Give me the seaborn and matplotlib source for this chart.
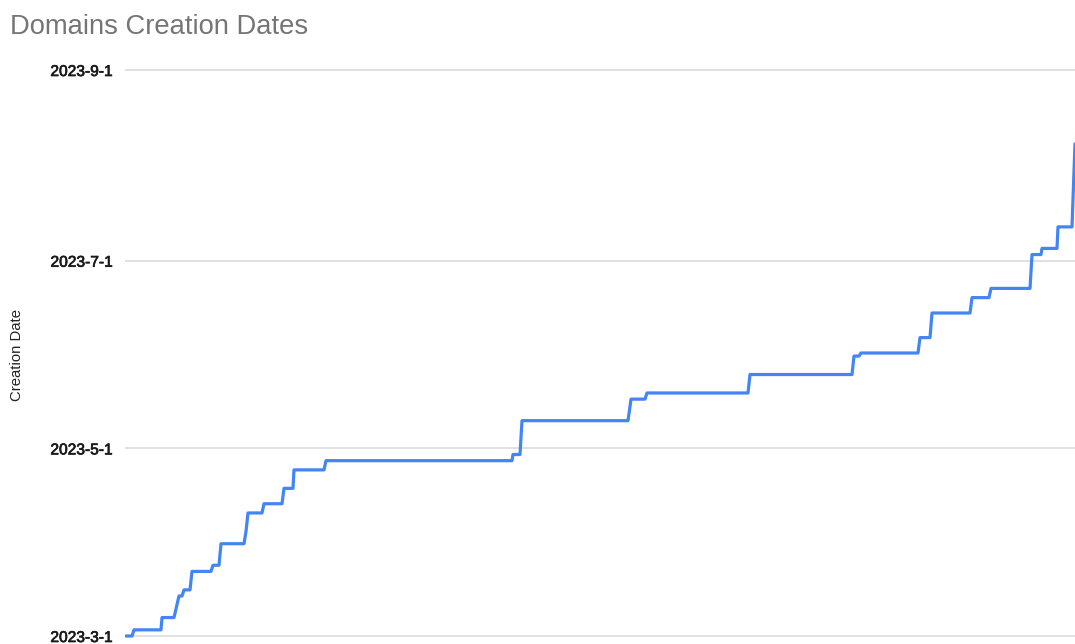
import matplotlib
matplotlib.use("Agg")
import matplotlib.pyplot as plt
import matplotlib.dates as mdates
import matplotlib.patheffects as pe
import seaborn as sns
import pandas as pd

# domain rank (sorted by creation date) and its creation date, at each bend of the curve
domain_rank = [0, 6, 8, 35, 36, 48, 53, 56, 58, 64, 66, 85, 87, 93, 95, 118,
               120, 122, 136, 138, 156, 158, 167, 168, 198, 200, 386, 387, 394,
               396, 502, 505, 519, 521, 622, 624, 726, 728, 733, 735, 792, 794,
               804, 806, 844, 846, 863, 865, 904, 906, 915, 916, 931, 932, 946, 949]
creation_date = ["2023-03-01", "2023-03-01", "2023-03-03", "2023-03-03",
                 "2023-03-07", "2023-03-07", "2023-03-14", "2023-03-14",
                 "2023-03-16", "2023-03-16", "2023-03-22", "2023-03-22",
                 "2023-03-24", "2023-03-24", "2023-03-31", "2023-03-31",
                 "2023-04-04", "2023-04-10", "2023-04-10", "2023-04-13",
                 "2023-04-13", "2023-04-18", "2023-04-18", "2023-04-24",
                 "2023-04-24", "2023-04-27", "2023-04-27", "2023-04-29",
                 "2023-04-29", "2023-05-10", "2023-05-10", "2023-05-17",
                 "2023-05-17", "2023-05-19", "2023-05-19", "2023-05-25",
                 "2023-05-25", "2023-05-31", "2023-05-31", "2023-06-01",
                 "2023-06-01", "2023-06-06", "2023-06-06", "2023-06-14",
                 "2023-06-14", "2023-06-19", "2023-06-19", "2023-06-22",
                 "2023-06-22", "2023-07-03", "2023-07-03", "2023-07-05",
                 "2023-07-05", "2023-07-12", "2023-07-12", "2023-08-08"]
tick_dates = ["2023-03-01", "2023-05-01", "2023-07-01", "2023-09-01"]

df = pd.DataFrame({"rank": domain_rank,
                   "date": mdates.date2num(pd.to_datetime(creation_date))})
ticks = mdates.date2num(pd.to_datetime(tick_dates))

sns.set_style("white")
plt.rcParams["font.family"] = ["Liberation Sans", "DejaVu Sans"]

fig = plt.figure(figsize=(10.75, 6.44), dpi=100)
ax = fig.add_axes([125 / 1075, 0, 950 / 1075, (644 - 60) / 644])

sns.lineplot(data=df, x="rank", y="date", estimator=None, sort=False,
             color="#4285F4", linewidth=2.3, ax=ax, zorder=3)

ax.set_xlim(-1, 949)
ax.set_ylim(ticks[0] - 2.6, ticks[-1] + 3.25)
ax.set_yticks(ticks)
ax.yaxis.set_major_formatter(
    plt.FuncFormatter(lambda v, p: "{d.year}-{d.month}-{d.day}".format(d=mdates.num2date(v))))
ax.set_xticks([])
ax.set_xlabel("")
ax.set_ylabel("")
ax.tick_params(axis="y", length=0, pad=9, labelsize=11.2, labelcolor="#1a1a1a")
for lab in ax.get_yticklabels():
    lab.set_path_effects([pe.withStroke(linewidth=0.5, foreground="#1a1a1a")])
ax.grid(axis="y", color="#dadada", linewidth=1.2)
for s in ax.spines.values():
    s.set_visible(False)

fig.text(10 / 1075, 1 - 34 / 644, "Domains Creation Dates", fontsize=19.7,
         color="#757575", ha="left", va="baseline")
fig.text(17 / 1075, 1 - 355 / 644, "Creation Date", fontsize=10.7,
         color="#222222", rotation=90, ha="center", va="center")

fig.savefig("out.png", dpi=100)
